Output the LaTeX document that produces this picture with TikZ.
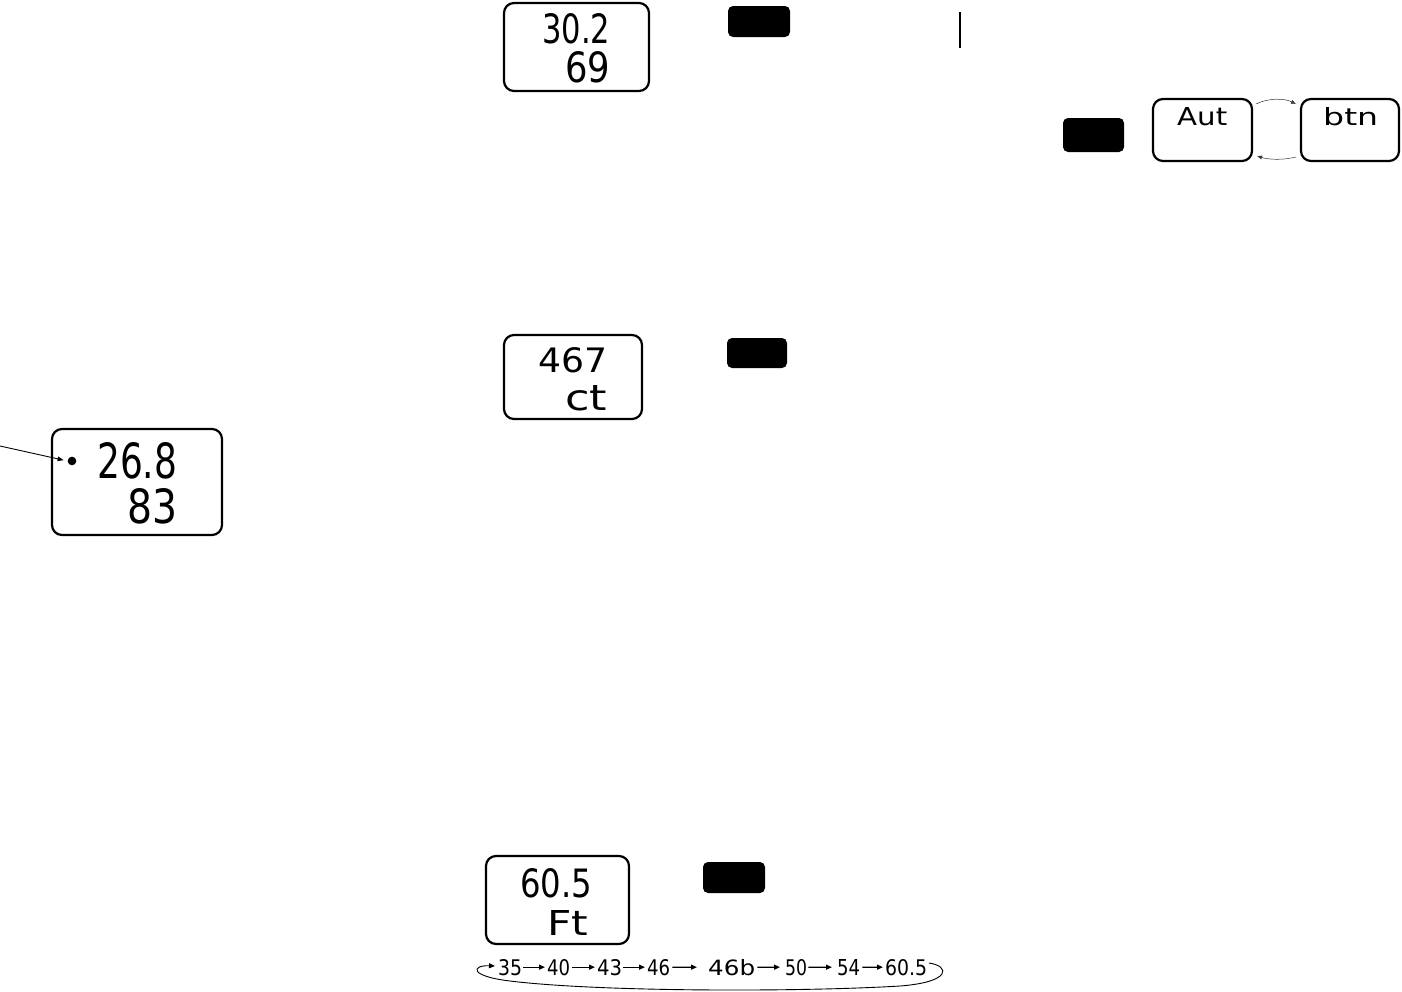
\documentclass[tikz,border=0pt]{standalone}
\usepackage{fontspec}
\usepackage{graphicx}
\newfontfamily\lcdfont{DejaVu Sans}
\usetikzlibrary{arrows.meta}
\newcommand\lcd[3]{\resizebox{#1pt}{#2pt}{\lcdfont #3}}
\begin{document}
\begin{tikzpicture}[x=1pt,y=-1pt,
  display/.style={draw, line width=2.2pt, rounded corners=10pt, inner sep=0pt},
  button/.style={fill=black, rounded corners=5pt, inner sep=0pt},
  lcdtext/.style={inner sep=0pt, anchor=base west},
  seqarrow/.style={line width=1.2pt, -{Triangle[length=6pt,width=5pt]}},
  thinarrow/.style={line width=0.5pt, draw=black!80, -{Latex[length=5pt,width=4pt]}},
  pointer/.style={line width=0.9pt, -{Triangle[length=6pt,width=4.5pt]}},
  looppath/.style={line width=0.9pt, -{Triangle[length=6pt,width=5pt]}}
]
\useasboundingbox (0,0) rectangle (1402,991);

% displays
\node[display, minimum width=145pt, minimum height=88pt] (d1) at (576.5,47) {};
\node[display, minimum width=138pt, minimum height=84pt] (d2) at (573,377) {};
\node[display, minimum width=170pt, minimum height=106pt] (d3) at (137,482) {};
\node[display, minimum width=143pt, minimum height=88pt] (d4) at (557.5,900) {};
\node[display, minimum width=99pt, minimum height=62pt] (aut) at (1202.5,130) {};
\node[display, minimum width=98pt, minimum height=62pt] (btn) at (1350,130) {};

% buttons
\node[button, minimum width=62pt, minimum height=31pt] (b1) at (759,21.5) {};
\node[button, minimum width=61pt, minimum height=34pt] (b2) at (1093.5,135) {};
\node[button, minimum width=60pt, minimum height=30pt] (b3) at (757,353) {};
\node[button, minimum width=62pt, minimum height=31pt] (b4) at (734,877.5) {};

% display texts
\node[lcdtext] (t1a) at (542,43) {\lcd{68}{30}{30.2}};
\node[lcdtext] (t1b) at (565,82) {\lcd{45}{31}{69}};
\node[lcdtext] (t2a) at (538,372) {\lcd{69}{25}{467}};
\node[lcdtext] (t2b) at (565,410) {\lcd{42}{25}{ct}};
\node[lcdtext] (t3a) at (97,478) {\lcd{80}{36}{26.8}};
\node[lcdtext] (t3b) at (127,523) {\lcd{50}{35}{83}};
\node[lcdtext] (t4a) at (520,897) {\lcd{72}{29}{60.5}};
\node[lcdtext] (t4b) at (547,935) {\lcd{41}{25}{Ft}};
\node[lcdtext] (tAut) at (1177,125) {\lcd{50}{18}{Aut}};
\node[lcdtext] (tbtn) at (1323,125) {\lcd{55}{18}{btn}};

% vertical bar
\draw[line width=2pt] (960,12) -- (960,48);

% Aut <-> btn arrows
\coordinate (autNE) at (1256,104);
\coordinate (btnNW) at (1296,104);
\coordinate (btnSW) at (1296,157);
\coordinate (autSE) at (1257,156);
\draw[thinarrow] (autNE) .. controls (1268,98) and (1284,98) .. (btnNW);
\draw[thinarrow] (btnSW) .. controls (1284,160) and (1270,160) .. (autSE);

% dot and pointer
\node[circle, fill=black, minimum size=8.6pt, inner sep=0pt] (dot) at (72,461) {};
\coordinate (pointerstart) at (0,446);
\draw[pointer, shorten >=4pt] (pointerstart) -- (dot.west);

% sequence
\node[lcdtext] (s1) at (498,975) {\lcd{24}{16}{35}};
\node[lcdtext] (s2) at (547,975) {\lcd{23}{16}{40}};
\node[lcdtext] (s3) at (597,975) {\lcd{25}{16}{43}};
\node[lcdtext] (s4) at (647,975) {\lcd{23}{16}{46}};
\node[lcdtext] (s5) at (708,975) {\lcd{47}{16}{46b}};
\node[lcdtext] (s6) at (785,975) {\lcd{22}{16}{50}};
\node[lcdtext] (s7) at (837,975) {\lcd{23}{16}{54}};
\node[lcdtext] (s8) at (885,975) {\lcd{42}{16}{60.5}};

\draw[seqarrow, shorten <=1pt, shorten >=2pt] (s1.east) -- (s2.west);
\draw[seqarrow, shorten <=2pt, shorten >=2pt] (s2.east) -- (s3.west);
\draw[seqarrow, shorten <=1pt, shorten >=2pt] (s3.east) -- (s4.west);
\draw[seqarrow, shorten <=2pt, shorten >=11pt] (s4.east) -- (s5.west);
\draw[seqarrow, shorten <=2pt, shorten >=5pt] (s5.east) -- (s6.west);
\draw[seqarrow, shorten <=1pt, shorten >=5pt] (s6.east) -- (s7.west);
\draw[seqarrow, shorten <=2pt, shorten >=2pt] (s7.east) -- (s8.west);

\coordinate (loopstart) at (929,963);
\coordinate (loopend) at (495,966);
\draw[looppath] (loopstart) .. controls (950,966) and (952,982) .. (900,986)
  .. controls (800,992) and (600,992) .. (510,981)
  .. controls (468,976) and (472,965) .. (loopend);
\end{tikzpicture}
\end{document}
